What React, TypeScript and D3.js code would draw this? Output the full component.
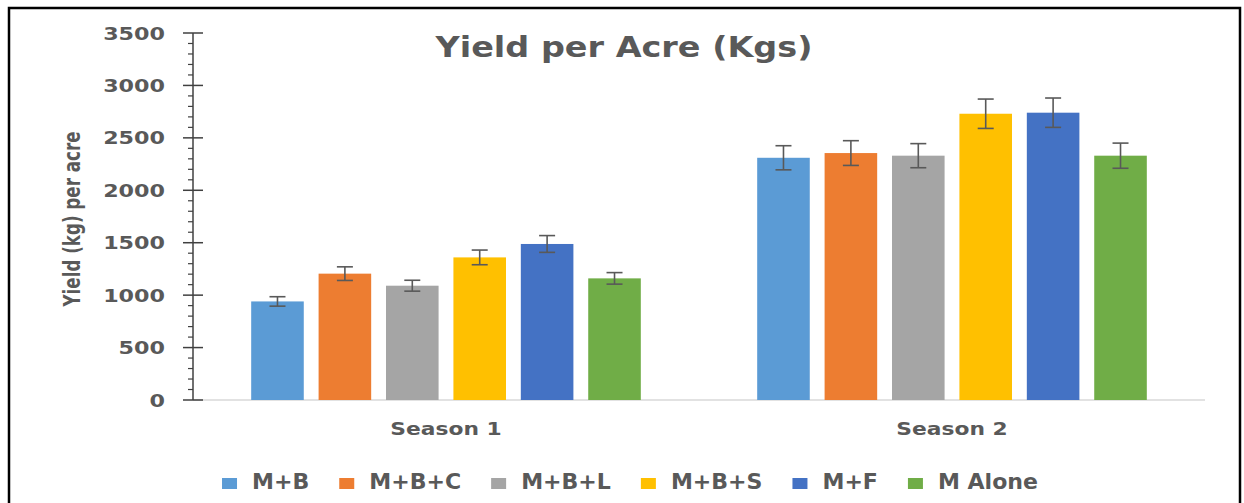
import React from "react";
import * as d3 from "d3";

const seasons = ["Season 1", "Season 2"];
const treatments = ["M+B", "M+B+C", "M+B+L", "M+B+S", "M+F", "M Alone"];
const colors = ["#5B9BD5", "#ED7D31", "#A5A5A5", "#FFC000", "#4472C4", "#70AD47"];
const season1Values = [940, 1205, 1090, 1360, 1488, 1160];
const season1Errors = [45, 65, 52, 70, 80, 55];
const season2Values = [2310, 2355, 2330, 2730, 2740, 2330];
const season2Errors = [115, 118, 115, 140, 140, 120];
const yTicks = [0, 500, 1000, 1500, 2000, 2500, 3000, 3500];
const title = "Yield per Acre (Kgs)";
const yLabel = "Yield (kg) per acre";

const W = 1244;
const H = 503;
const FONT = "DejaVu Sans";
const TXT = "#595959";

function measure(text: string, font: string): number {
  if (typeof document === "undefined") return text.length * 10;
  const c = document.createElement("canvas");
  const ctx = c.getContext("2d");
  if (!ctx) return text.length * 10;
  ctx.font = font;
  return ctx.measureText(text).width;
}

export default function App() {
  const values = [season1Values, season2Values];
  const errors = [season1Errors, season2Errors];

  const x0 = d3.scaleBand<string>().domain(seasons).range([193, 1205]).paddingInner(0.23).paddingOuter(0.115);
  const x1 = d3.scaleBand<string>().domain(treatments).range([0, x0.bandwidth()]).paddingInner(0.22).paddingOuter(0);
  const y = d3.scaleLinear().domain([0, 3500]).range([400, 33]);
  const minorTicks = d3.range(0, 3501, 100).filter((v) => v % 500 !== 0);

  // legend layout
  const legendFontSize = 21;
  const legendSX = 1.05;
  const markerW = 15;
  const markerH = 11;
  const markerGap = 15;
  const itemGap = 30;
  const widths = treatments.map((t) => measure(t, `bold ${legendFontSize}px "${FONT}"`) * legendSX);
  const itemWidths = widths.map((w) => markerW + markerGap + w);
  const totalW = d3.sum(itemWidths) + itemGap * (treatments.length - 1);
  const legendCenter = 630;
  let cursor = legendCenter - totalW / 2;
  const legendX = itemWidths.map((w) => {
    const s = cursor;
    cursor += w + itemGap;
    return s;
  });

  const tickSX = 1.27;
  const catSX = 1.26;

  return (
    <div style={{ position: "absolute", left: 0, top: 0 }}>
      <svg width={W} height={H} style={{ display: "block", background: "#fff" }}>
        <rect x={0} y={0} width={W} height={H} fill="#fff" />
        {/* outer border */}
        <rect x={9} y={8} width={1231} height={H + 10} fill="none" stroke="#000" strokeWidth={2.5} />

        {/* title */}
        <text x={624} y={57} textAnchor="middle" fontFamily={FONT} fontWeight="bold" fontSize={29}
          fill={TXT} textLength={377} lengthAdjust="spacingAndGlyphs">{title}</text>

        {/* y label */}
        <text transform={`translate(80,219) rotate(-90)`} textAnchor="middle"
          fontFamily="'Liberation Sans Narrow', 'DejaVu Sans Condensed', sans-serif"
          fontWeight="bold" fontSize={23} fill={TXT} textLength={175} lengthAdjust="spacingAndGlyphs">{yLabel}</text>

        {/* x baseline */}
        <line x1={193} x2={1205} y1={y(0)} y2={y(0)} stroke="#D9D9D9" strokeWidth={1.5} />

        {/* bars */}
        {seasons.map((s, si) => (
          <g key={s} transform={`translate(${x0(s)},0)`}>
            {treatments.map((t, ti) => {
              const v = values[si][ti];
              const e = errors[si][ti];
              const bx = x1(t) as number;
              const cx = bx + x1.bandwidth() / 2;
              return (
                <g key={t}>
                  <rect x={bx} y={y(v)} width={x1.bandwidth()} height={y(0) - y(v)} fill={colors[ti]} />
                  <g stroke="#595959" strokeWidth={1.6}>
                    <line x1={cx} x2={cx} y1={y(v + e)} y2={y(v - e)} />
                    <line x1={cx - 8} x2={cx + 8} y1={y(v + e)} y2={y(v + e)} />
                    <line x1={cx - 8} x2={cx + 8} y1={y(v - e)} y2={y(v - e)} />
                  </g>
                </g>
              );
            })}
          </g>
        ))}

        {/* y axis */}
        <line x1={193} x2={193} y1={y(0)} y2={y(3500)} stroke="#404040" strokeWidth={1.5} />
        {minorTicks.map((v) => (
          <line key={`m${v}`} x1={188} x2={193} y1={y(v)} y2={y(v)} stroke="#404040" strokeWidth={1.2} />
        ))}
        {yTicks.map((v) => (
          <g key={v}>
            <line x1={183} x2={203} y1={y(v)} y2={y(v)} stroke="#404040" strokeWidth={1.5} />
            <text transform={`translate(165,${y(v) + 6.5}) scale(${tickSX},1)`} textAnchor="end" fontFamily={FONT}
              fontWeight="bold" fontSize={17.5} fill={TXT}>{v}</text>
          </g>
        ))}

        {/* category labels */}
        {seasons.map((s) => (
          <text key={s} transform={`translate(${(x0(s) as number) + x0.bandwidth() / 2},434.5) scale(${catSX},1)`}
            textAnchor="middle" fontFamily={FONT} fontWeight="bold" fontSize={17.3} fill={TXT}>{s}</text>
        ))}

        {/* legend */}
        {treatments.map((t, i) => (
          <g key={t}>
            <rect x={legendX[i]} y={478} width={markerW} height={markerH} fill={colors[i]} />
            <text transform={`translate(${legendX[i] + markerW + markerGap},489.3) scale(${legendSX},1)`}
              fontFamily={FONT} fontWeight="bold" fontSize={legendFontSize} fill={TXT}>{t}</text>
          </g>
        ))}
      </svg>
    </div>
  );
}
